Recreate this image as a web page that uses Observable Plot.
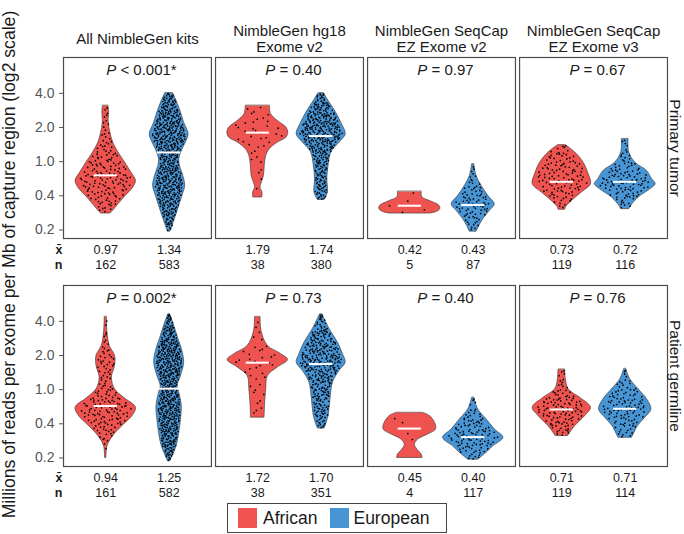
<!DOCTYPE html>
<html>
<head>
<meta charset="utf-8">
<script src="https://cdn.jsdelivr.net/npm/d3@7"></script>
<script src="https://cdn.jsdelivr.net/npm/@observablehq/plot@0.6"></script>
<style>
  body { margin: 0; background: white; font-family: "Liberation Sans", Arial, sans-serif; }
  #wrap { position: relative; width: 684px; height: 534px; }
  #wrap svg { position: absolute; left: 0; top: 0; }
  #legend { position: absolute; left: 227px; top: 503px; width: 218px; height: 28px; border: 1px solid #444; background: white;
            display: flex; align-items: center; font-size: 17.5px; color: #1a1a1a; box-sizing: content-box; }
  .sw { width: 19px; height: 20px; display: inline-block; }
</style>
</head>
<body>
<div id="wrap"></div>
<script>
// ---------- data ----------
const kits = ["All NimbleGen kits", "NimbleGen hg18\nExome v2", "NimbleGen SeqCap\nEZ Exome v2", "NimbleGen SeqCap\nEZ Exome v3"];
const tissues = ["Primary tumor", "Patient germline"];
const ancestries = ["African", "European"];
const ancestryColors = ["#EF5350", "#4895D6"];
const yTitle = "Millions of reads per exome per Mb of capture region (log2 scale)";
const yTickValues = [-2, -1, 0, 1, 2];          // log2 positions
const yTickLabels = ["0.2", "0.4", "1.0", "2.0", "4.0"];

const tumorPValues = ["P < 0.001*", "P = 0.40", "P = 0.97", "P = 0.67"];
const germlinePValues = ["P = 0.002*", "P = 0.73", "P = 0.40", "P = 0.76"];

// [African, European] per kit
const tumorMeans = [[0.97, 1.34], [1.79, 1.74], [0.42, 0.43], [0.73, 0.72]];
const tumorN = [[162, 583], [38, 380], [5, 87], [119, 116]];
const germlineMeans = [[0.94, 1.25], [1.72, 1.70], [0.45, 0.40], [0.71, 0.71]];
const germlineN = [[161, 582], [38, 351], [4, 117], [119, 114]];

// medians (log2 units)
const tumorMedians = [[-0.40, 0.27], [0.85, 0.75], [-1.29, -1.27], [-0.59, -0.59]];
const germlineMedians = [[-0.48, 0.03], [0.79, 0.75], [-1.14, -1.39], [-0.58, -0.56]];

// violin outlines: [log2 value, half width], top to bottom
const tumorAfricanOutlines = [
  [[1.63,0.13],[1.48,0.16],[1.14,0.14],[0.85,0.22],[0.56,0.35],[0.27,0.60],[-0.03,0.92],[-0.32,1.21],[-0.56,1.43],[-0.76,1.30],[-1.00,0.95],[-1.25,0.60],[-1.44,0.35],[-1.52,0.22]],
  [[1.63,0.57],[1.39,0.63],[1.19,0.95],[1.00,1.35],[0.85,1.44],[0.70,1.35],[0.56,0.95],[0.36,0.56],[0.17,0.40],[-0.12,0.33],[-0.42,0.29],[-0.61,0.19],[-0.76,0.13],[-0.90,0.22],[-1.05,0.21]],
  [[-0.885,0.56],[-1.05,0.60],[-1.15,0.95],[-1.29,1.40],[-1.39,1.44],[-1.47,1.27],[-1.52,0.95]],
  [[0.48,0.19],[0.27,0.63],[-0.03,1.03],[-0.37,1.27],[-0.66,1.38],[-0.90,0.95],[-1.15,0.48],[-1.34,0.19],[-1.41,0.16]]
];
const tumorEuropeanOutlines = [
  [[2.00,0.19],[1.82,0.32],[1.53,0.51],[1.14,0.71],[0.80,0.92],[0.56,0.79],[0.31,0.60],[0.07,0.48],[-0.12,0.51],[-0.42,0.67],[-0.71,0.76],[-1.00,0.63],[-1.29,0.48],[-1.59,0.32],[-1.88,0.16],[-2.05,0.06]],
  [[2.00,0.13],[1.73,0.40],[1.43,0.71],[1.14,0.95],[0.80,1.16],[0.56,0.87],[0.27,0.48],[-0.12,0.35],[-0.51,0.29],[-0.90,0.32],[-1.12,0.16]],
  [[-0.08,0.05],[-0.42,0.16],[-0.71,0.40],[-1.00,0.71],[-1.25,1.02],[-1.44,0.79],[-1.68,0.48],[-1.88,0.29],[-2.05,0.16]],
  [[0.655,0.16],[0.27,0.19],[-0.03,0.48],[-0.27,1.03],[-0.51,1.27],[-0.66,1.44],[-0.81,1.19],[-1.05,0.63],[-1.29,0.29],[-1.39,0.19]]
];
const germlineAfricanOutlines = [
  [[2.12,0.05],[1.68,0.08],[1.28,0.19],[0.99,0.44],[0.70,0.44],[0.35,0.29],[0.01,0.44],[-0.24,0.87],[-0.53,1.43],[-0.77,1.27],[-1.02,0.87],[-1.26,0.48],[-1.46,0.24],[-1.66,0.08],[-2.00,0.03]],
  [[2.12,0.13],[1.68,0.19],[1.28,0.48],[1.04,1.11],[0.87,1.43],[0.65,0.95],[0.40,0.48],[0.01,0.40],[-0.38,0.35],[-0.82,0.32]],
  [[-0.68,0.63],[-0.77,0.95],[-0.97,1.19],[-1.17,1.24],[-1.31,0.87],[-1.46,0.40],[-1.61,0.24],[-1.75,0.35],[-1.90,0.56],[-2.00,0.60]],
  [[0.58,0.16],[0.30,0.19],[0.01,0.32],[-0.24,0.87],[-0.53,1.38],[-0.77,1.11],[-1.07,0.63],[-1.26,0.40],[-1.36,0.29]]
];
const germlineEuropeanOutlines = [
  [[2.20,0.05],[1.87,0.24],[1.48,0.44],[1.19,0.60],[0.79,0.71],[0.40,0.56],[0.11,0.40],[-0.09,0.48],[-0.48,0.60],[-0.87,0.56],[-1.26,0.48],[-1.66,0.35],[-1.95,0.16],[-2.10,0.05]],
  [[2.20,0.06],[1.77,0.40],[1.38,0.79],[1.04,1.03],[0.79,1.16],[0.55,0.87],[0.21,0.56],[-0.28,0.44],[-0.77,0.35],[-1.14,0.16]],
  [[-0.24,0.05],[-0.58,0.24],[-0.87,0.63],[-1.17,1.03],[-1.41,1.43],[-1.66,0.95],[-1.85,0.63],[-2.05,0.24]],
  [[0.60,0.05],[0.30,0.24],[0.01,0.63],[-0.28,1.03],[-0.58,1.24],[-0.82,0.95],[-1.07,0.60],[-1.31,0.40],[-1.41,0.32]]
];

// ---------- build tables ----------
const ancestryCenter = [2, 5]; // positions on x (0..7)
const perTissue = [
  {outlines: [tumorAfricanOutlines, tumorEuropeanOutlines], means: tumorMeans, n: tumorN, med: tumorMedians, p: tumorPValues},
  {outlines: [germlineAfricanOutlines, germlineEuropeanOutlines], means: germlineMeans, n: germlineN, med: germlineMedians, p: germlinePValues}
];

function halton(i, b) { let f = 1, r = 0; while (i > 0) { f /= b; r += f * (i % b); i = Math.floor(i / b); } return r; }

const outlineRows = [], medianRows = [], statRows = [], pointRows = [], pRows = [];
perTissue.forEach((T, ti) => {
  kits.forEach((kit, ki) => {
    pRows.push({tissue: tissues[ti], kit, label: T.p[ki]});
    ancestries.forEach((anc, ai) => {
      const c = ancestryCenter[ai];
      const outline = T.outlines[ai][ki];
      const id = `${ti}-${ki}-${ai}`;
      outline.forEach(([v, w]) => outlineRows.push({tissue: tissues[ti], kit, ancestry: anc, id, v, xl: c - w, xr: c + w}));
      medianRows.push({tissue: tissues[ti], kit, ancestry: anc, v: T.med[ki][ai], c});
      statRows.push({tissue: tissues[ti], kit, ancestry: anc, c, mean: T.means[ki][ai], n: T.n[ki][ai]});
      // observations placed inside the outline, density following its width
      const seg = [];
      let total = 0;
      for (let j = 0; j < outline.length - 1; j++) {
        const a = outline[j], b = outline[j + 1];
        const area = (a[1] + b[1]) / 2 * Math.abs(a[0] - b[0]);
        seg.push({a, b, start: total, area});
        total += area;
      }
      const count = T.n[ki][ai];
      for (let i = 0; i < count; i++) {
        const u = halton(i + 1 + ki * 7 + ti * 3, 2) * total;
        let s = seg.find(s => u <= s.start + s.area) || seg[seg.length - 1];
        const f = s.area > 0 ? (u - s.start) / s.area : 0.5;
        const v = s.a[0] + (s.b[0] - s.a[0]) * f;
        const w = s.a[1] + (s.b[1] - s.a[1]) * f;
        const xf = halton(i + 1 + ai * 11, 3) * 2 - 1;
        pointRows.push({tissue: tissues[ti], kit, x: c + xf * w * 0.88, y: v});
      }
    });
  });
});

const statLabelRows = tissues.map(t => ({tissue: t, kit: kits[0]}));

// ---------- plot ----------
const plot = Plot.plot({
  width: 684,
  height: 534,
  marginTop: 57,
  marginBottom: 68,
  marginLeft: 63,
  marginRight: 17,
  style: {fontFamily: "'Liberation Sans', Arial, sans-serif", fontSize: "14px", background: "white", color: "#1a1a1a"},
  fx: {domain: kits, paddingInner: 0.027, paddingOuter: 0, round: false, axis: null},
  fy: {domain: tissues, paddingInner: 0.206, paddingOuter: 0, round: false, axis: null},
  x: {domain: [0, 7], axis: null},
  y: {domain: [-2.25, 3.05], axis: null},
  color: {domain: ancestries, range: ancestryColors},
  marks: [
    Plot.frame({stroke: "#4d4d4d", strokeWidth: 1.2}),
    Plot.axisY(yTickValues, {anchor: "left", tickSize: 4, tickPadding: 5, fontSize: 14, color: "#555",
      tickFormat: d => yTickLabels[yTickValues.indexOf(d)], label: null}),
    Plot.areaX(outlineRows, {fx: "kit", fy: "tissue", y: "v", x1: "xl", x2: "xr", z: "id",
      fill: "ancestry", stroke: "#333", strokeWidth: 0.6, curve: "catmull-rom"}),
    Plot.dot(pointRows, {fx: "kit", fy: "tissue", x: "x", y: "y", r: 0.85, fill: "black"}),
    Plot.ruleY(medianRows, {fx: "kit", fy: "tissue", y: "v", x1: d => d.c - 0.55, x2: d => d.c + 0.55,
      stroke: "white", strokeWidth: 2}),
    Plot.text(statRows, {fx: "kit", fy: "tissue", x: "c", frameAnchor: "bottom", lineAnchor: "middle", dy: 11,
      text: d => d.mean.toFixed(2), fontSize: 12.5, fill: "#1a1a1a"}),
    Plot.text(statRows, {fx: "kit", fy: "tissue", x: "c", frameAnchor: "bottom", lineAnchor: "middle", dy: 26,
      text: d => String(d.n), fontSize: 12.5, fill: "#1a1a1a"}),
    Plot.text(statLabelRows, {fx: "kit", fy: "tissue", frameAnchor: "bottom-left", textAnchor: "end", lineAnchor: "middle",
      dx: -1, dy: 11, text: () => "x\u0304", fontSize: 12.5, fontWeight: "bold", fill: "#1a1a1a"}),
    Plot.text(statLabelRows, {fx: "kit", fy: "tissue", frameAnchor: "bottom-left", textAnchor: "end", lineAnchor: "middle",
      dx: -1, dy: 26, text: () => "n", fontSize: 12.5, fontWeight: "bold", fill: "#1a1a1a"}),
    Plot.text(pRows, {fx: "kit", fy: "tissue", frameAnchor: "top", lineAnchor: "middle", dx: 4, dy: 13, text: "label",
      fontSize: 15, fill: "#1a1a1a"}),
    Plot.text(kits, {fx: d => d, fy: () => tissues[0], frameAnchor: "top", lineAnchor: "middle", dy: -19, text: d => d,
      fontSize: 15, lineHeight: 1.07, fill: "#1a1a1a"}),
    Plot.text(tissues, {fy: d => d, fx: () => kits[3], frameAnchor: "right", textAnchor: "middle", lineAnchor: "middle",
      rotate: 90, dx: 7, text: d => d, fontSize: 15.5, fill: "#1a1a1a"}),
    Plot.text([yTitle], {fx: () => kits[0], fy: () => tissues[0], frameAnchor: "bottom-left", textAnchor: "middle",
      lineAnchor: "middle", rotate: -90, dx: -54.5, dy: 26, text: d => d, fontSize: 17.6, fill: "#1a1a1a"})
  ]
});

// italic P in p-value labels
const pLabels = new Set([...tumorPValues, ...germlinePValues]);
plot.querySelectorAll("text").forEach(el => {
  const t = el.textContent;
  if (!pLabels.has(t)) return;
  el.textContent = "";
  const ns = "http://www.w3.org/2000/svg";
  const it = document.createElementNS(ns, "tspan");
  it.setAttribute("font-style", "italic");
  it.textContent = t.slice(0, 1);
  el.appendChild(it);
  el.appendChild(document.createTextNode(t.slice(1)));
});

const wrap = document.getElementById("wrap");
wrap.appendChild(plot);

// legend
const legend = document.createElement("div");
legend.id = "legend";
ancestries.forEach((a, i) => {
  const sw = document.createElement("span");
  sw.className = "sw";
  sw.style.background = ancestryColors[i];
  sw.style.marginLeft = i === 0 ? "10px" : "13px";
  sw.style.marginRight = i === 0 ? "6px" : "4px";
  legend.appendChild(sw);
  const lab = document.createElement("span");
  lab.textContent = a;
  legend.appendChild(lab);
});
wrap.appendChild(legend);
</script>
</body>
</html>
